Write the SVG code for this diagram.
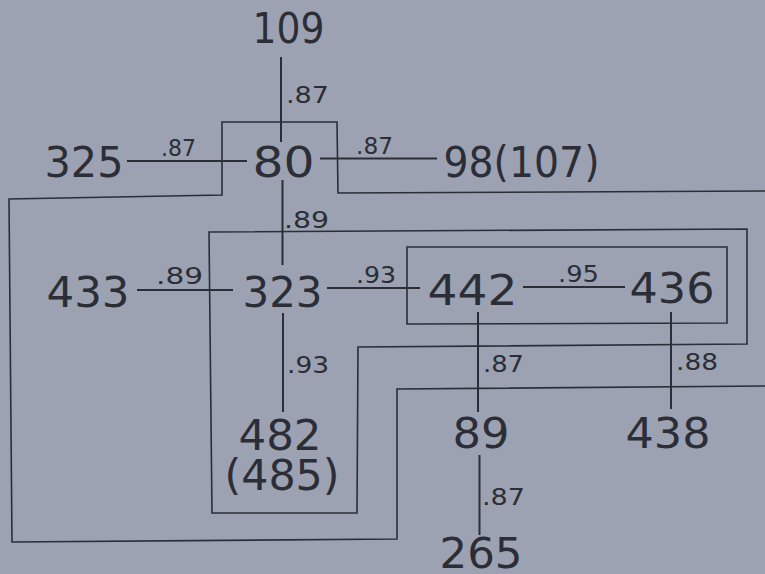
<svg xmlns="http://www.w3.org/2000/svg" width="765" height="574" viewBox="0 0 765 574">
<style>
.bg{fill:#9ca2b2}
.n{font-family:"DejaVu Sans",sans-serif;font-size:43px;fill:#2b2e37;text-anchor:middle}
.e{font-family:"DejaVu Sans",sans-serif;font-size:23px;fill:#2b2e37;text-anchor:middle}
.c{stroke:#2b2e37;stroke-width:2;fill:none}
.r{stroke:#2b2e37;stroke-width:1.6;fill:none;stroke-linejoin:miter}
</style>
<rect class="bg" x="0" y="0" width="765" height="574"/>
<g id="regions">
<polyline class="r" points="765,191 338,193 337,122 222,122 222,195 9,199 12,542 397,539 397,389 765,386"/>
<polygon class="r" points="209,232 747,229 747,344 358,347 357,513 212,513"/>
<polygon class="r" points="407,247 727,247 727,323 407,324"/>
</g>
<g id="connectors">
<line class="c" x1="281" y1="57" x2="281" y2="142"/>
<line class="c" x1="282.5" y1="180" x2="282.5" y2="265"/>
<line class="c" x1="127" y1="161" x2="247" y2="161"/>
<line class="c" x1="320" y1="158.5" x2="437" y2="158.5"/>
<line class="c" x1="137" y1="290" x2="233" y2="290"/>
<line class="c" x1="327" y1="288" x2="420" y2="288"/>
<line class="c" x1="523" y1="287" x2="625" y2="287"/>
<line class="c" x1="283" y1="313" x2="283" y2="412"/>
<line class="c" x1="478" y1="312" x2="478" y2="412"/>
<line class="c" x1="671" y1="312" x2="671" y2="409"/>
<line class="c" x1="479.5" y1="455" x2="479.5" y2="535"/>
<text class="e" x="307.5" y="103" textLength="43" lengthAdjust="spacingAndGlyphs">.87</text>
<text class="e" x="178.5" y="156" textLength="35" lengthAdjust="spacingAndGlyphs">.87</text>
<text class="e" x="374.5" y="154" textLength="37" lengthAdjust="spacingAndGlyphs">.87</text>
<text class="e" x="306.5" y="228" textLength="45" lengthAdjust="spacingAndGlyphs">.89</text>
<text class="e" x="179.5" y="284" textLength="47" lengthAdjust="spacingAndGlyphs">.89</text>
<text class="e" x="376" y="283" textLength="40" lengthAdjust="spacingAndGlyphs">.93</text>
<text class="e" x="578.5" y="282" textLength="41" lengthAdjust="spacingAndGlyphs">.95</text>
<text class="e" x="308" y="373" textLength="42" lengthAdjust="spacingAndGlyphs">.93</text>
<text class="e" x="503.5" y="372" textLength="41" lengthAdjust="spacingAndGlyphs">.87</text>
<text class="e" x="697" y="370" textLength="42" lengthAdjust="spacingAndGlyphs">.88</text>
<text class="e" x="503.5" y="505" textLength="43" lengthAdjust="spacingAndGlyphs">.87</text>
</g>
<g id="n109"><text class="n" x="288.5" y="43" textLength="72" lengthAdjust="spacingAndGlyphs">109</text></g>
<g id="n325"><text class="n" x="84" y="177" textLength="79" lengthAdjust="spacingAndGlyphs">325</text></g>
<g id="n80"><text class="n" x="283.5" y="177" textLength="62" lengthAdjust="spacingAndGlyphs">80</text></g>
<g id="n98"><text class="n" x="521.5" y="177" textLength="156" lengthAdjust="spacingAndGlyphs">98(107)</text></g>
<g id="n433"><text class="n" x="88" y="307" textLength="83" lengthAdjust="spacingAndGlyphs">433</text></g>
<g id="n323"><text class="n" x="282.5" y="307" textLength="80" lengthAdjust="spacingAndGlyphs">323</text></g>
<g id="n442"><text class="n" x="472.5" y="305" textLength="90" lengthAdjust="spacingAndGlyphs">442</text></g>
<g id="n436"><text class="n" x="672" y="303" textLength="85" lengthAdjust="spacingAndGlyphs">436</text></g>
<g id="n482"><text class="n"><tspan x="280" y="450" textLength="83" lengthAdjust="spacingAndGlyphs">482</tspan><tspan x="282" y="490" textLength="115" lengthAdjust="spacingAndGlyphs">(485)</tspan></text></g>
<g id="n89"><text class="n" x="481" y="448" textLength="57" lengthAdjust="spacingAndGlyphs">89</text></g>
<g id="n438"><text class="n" x="668" y="448" textLength="85" lengthAdjust="spacingAndGlyphs">438</text></g>
<g id="n265"><text class="n" x="481" y="568" textLength="83" lengthAdjust="spacingAndGlyphs">265</text></g>
</svg>
